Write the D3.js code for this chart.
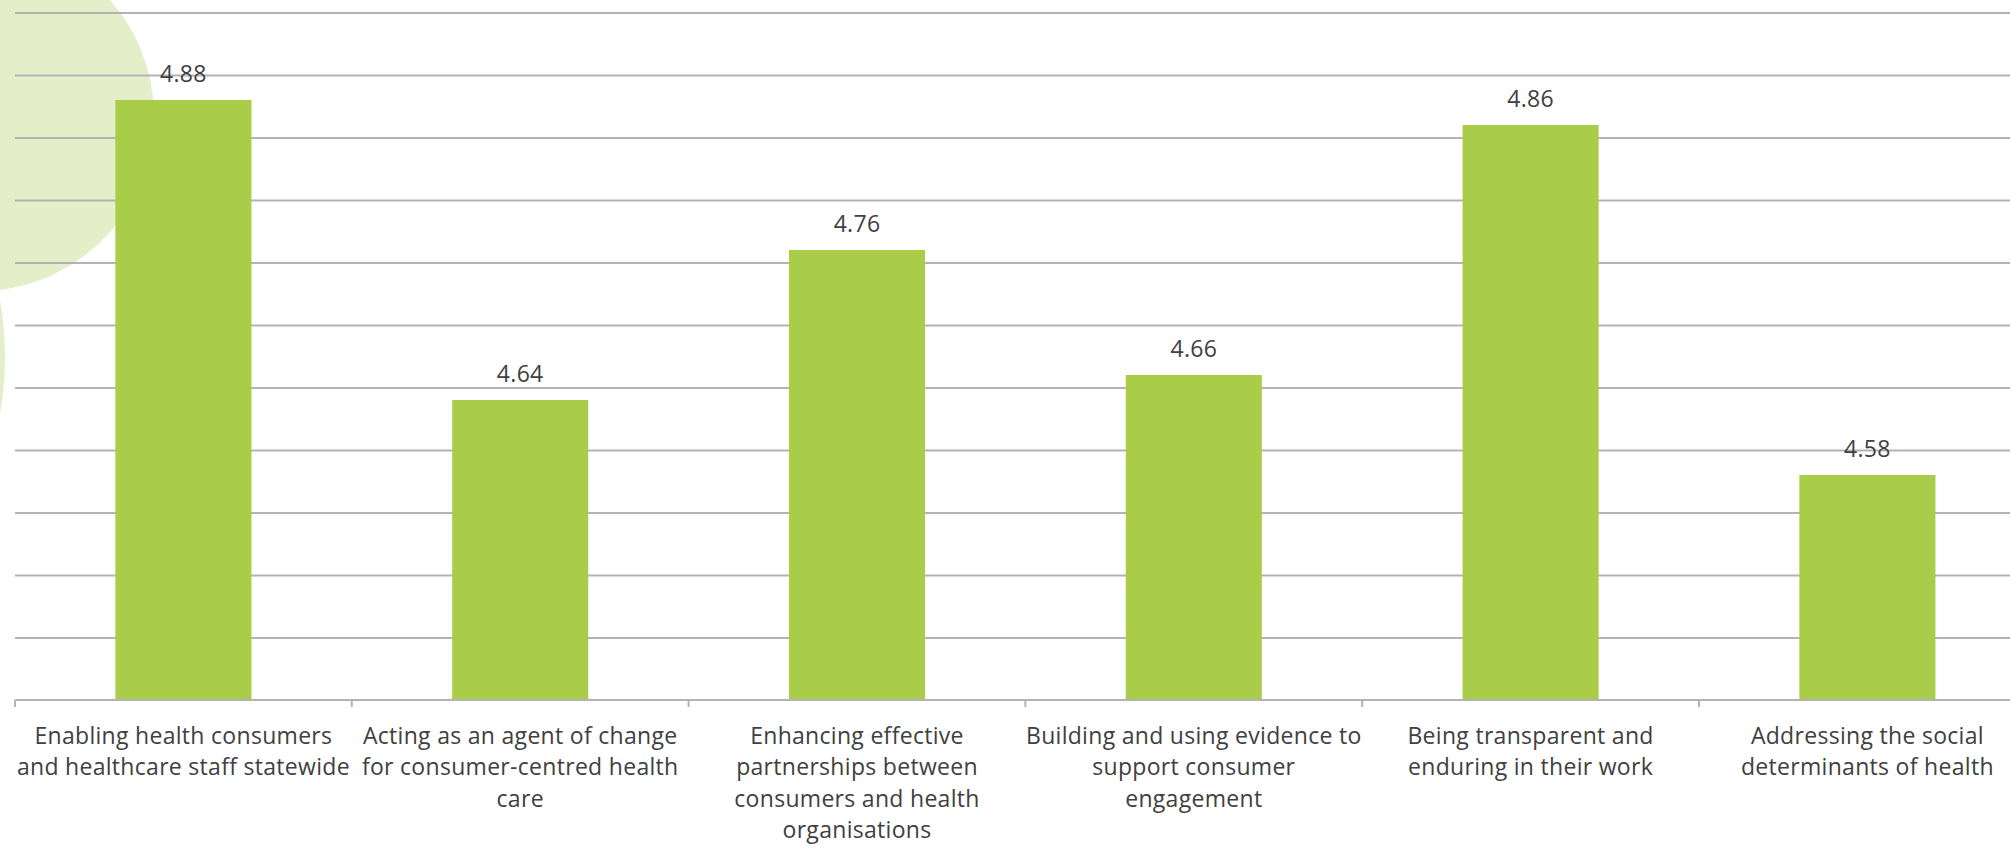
<!DOCTYPE html>
<html>
<head>
<meta charset="utf-8">
<script src="https://cdn.jsdelivr.net/npm/d3@7"></script>
<style>
  body { margin: 0; background: #fff; }
  text { font-family: "Open Sans", sans-serif; fill: #404040; }
</style>
</head>
<body>
<div id="chart"></div>
<script>
// chart data
var categories = [
  "Enabling health consumers\nand healthcare staff statewide",
  "Acting as an agent of change\nfor consumer-centred health\ncare",
  "Enhancing effective\npartnerships between\nconsumers and health\norganisations",
  "Building and using evidence to\nsupport consumer\nengagement",
  "Being transparent and\nenduring in their work",
  "Addressing the social\ndeterminants of health"
];
var values = [4.88, 4.64, 4.76, 4.66, 4.86, 4.58];
var yDomain = [4.4, 5.0];
var gridTicks = [4.45, 4.5, 4.55, 4.6, 4.65, 4.7, 4.75, 4.8, 4.85, 4.9, 4.95];

var W = 2010, H = 846;
var left = 15, baseY = 700, step = 336.8;
var right = left + step * categories.length;

var svg = d3.select("#chart")
  .append("svg")
  .attr("width", W)
  .attr("height", H);

// decorative circles in the background
var deco = svg.append("g");
deco.append("circle")
  .attr("cx", -21)
  .attr("cy", 116)
  .attr("r", 175)
  .style("fill", "#e4efca");
deco.append("circle")
  .attr("cx", -325)
  .attr("cy", 357)
  .attr("r", 330)
  .style("fill", "#e4efca");

var y = d3.scaleLinear().domain(yDomain).range([baseY, baseY - 12 * 62.5]);

var x = d3.scaleBand()
  .domain(categories)
  .range([left, right])
  .paddingInner(0.596)
  .paddingOuter(0.298);

var xCat = d3.scaleBand().domain(categories).range([left, right]).padding(0);

// gridlines
var grid = svg.append("g")
  .attr("transform", "translate(" + left + ",0)")
  .call(d3.axisLeft(y).tickValues(gridTicks).tickSize(-(right - left)).tickFormat(""));
grid.select(".domain").remove();
grid.selectAll("line").style("stroke", "#b3b3b3").style("stroke-width", 2);

// bars
svg.append("g")
  .selectAll("rect")
  .data(values)
  .enter()
  .append("rect")
  .attr("x", (d, i) => x(categories[i]))
  .attr("y", (d) => y(d))
  .attr("width", x.bandwidth())
  .attr("height", (d) => y(yDomain[0]) - y(d))
  .style("fill", "#a9cd48");

// x axis line with category boundary ticks
var axis = svg.append("g");
axis.append("line")
  .attr("x1", left)
  .attr("x2", right)
  .attr("y1", baseY)
  .attr("y2", baseY)
  .style("stroke", "#b3b3b3")
  .style("stroke-width", 2);
var bounds = categories.map((c) => xCat(c)).concat([right]);
axis.selectAll(".tick")
  .data(bounds)
  .enter()
  .append("line")
  .attr("x1", (d) => d)
  .attr("x2", (d) => d)
  .attr("y1", baseY)
  .attr("y2", baseY + 7)
  .style("stroke", "#b3b3b3")
  .style("stroke-width", 2);

// value labels
svg.append("g")
  .selectAll("text")
  .data(values)
  .enter()
  .append("text")
  .attr("text-anchor", "middle")
  .attr("x", (d, i) => x(categories[i]) + x.bandwidth() / 2)
  .attr("y", (d) => y(d) - 18)
  .style("font-size", "23px")
  .style("letter-spacing", "0.3px")
  .text((d) => d.toFixed(2));

// category labels
var labels = svg.append("g")
  .selectAll("text")
  .data(categories)
  .enter()
  .append("text")
  .attr("text-anchor", "middle")
  .style("font-size", "23px")
  .style("letter-spacing", "0.3px");
labels.each(function (c) {
  var t = d3.select(this);
  c.split("\n").forEach(function (line, k) {
    t.append("tspan")
      .attr("x", xCat(c) + xCat.bandwidth() / 2)
      .attr("y", 744 + k * 31.3)
      .text(line);
  });
});
</script>
</body>
</html>
